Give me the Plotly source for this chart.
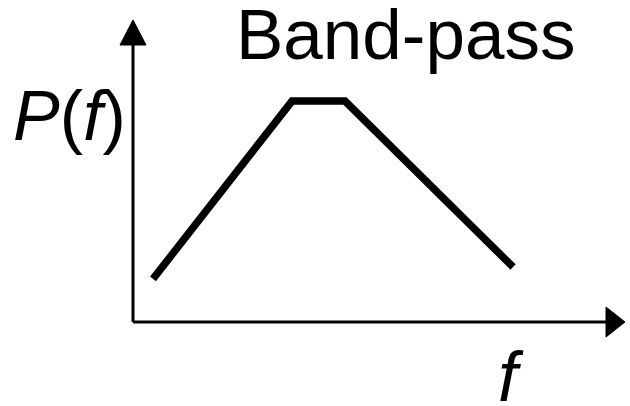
import plotly.graph_objects as go

# Schematic band-pass response (arbitrary units)
freq = [0.5, 3.975, 5.3, 9.5]
power = [0.98, 5.02, 5.02, 1.25]

title_text = "Band-pass"
y_label = "<i>P</i>(<i>f</i>)"
x_label = "<i>f</i>"

W, H = 630, 406
x_range = [-3.325, 12.425]
y_range = [-1.909, 7.318]

x_axis_end = 12.3      # arrow tip
y_axis_end = 6.864
x_head_len, x_head_half = 0.475, 0.341
y_head_len, y_head_half = 0.569, 0.325

fig = go.Figure()
fig.add_trace(go.Scatter(x=freq, y=power, mode="lines",
                         line=dict(color="black", width=7.5),
                         hoverinfo="skip", showlegend=False))

# axes lines
fig.add_shape(type="line", x0=0, y0=0, x1=x_axis_end - x_head_len, y1=0,
              line=dict(color="black", width=3))
fig.add_shape(type="line", x0=0, y0=0, x1=0, y1=y_axis_end - y_head_len,
              line=dict(color="black", width=3))
# arrow heads
xb = x_axis_end - x_head_len
fig.add_shape(type="path",
              path=f"M {xb},{-x_head_half} L {x_axis_end},0 L {xb},{x_head_half} Z",
              fillcolor="black", line=dict(color="black", width=1))
yb = y_axis_end - y_head_len
fig.add_shape(type="path",
              path=f"M {-y_head_half},{yb} L 0,{y_axis_end} L {y_head_half},{yb} Z",
              fillcolor="black", line=dict(color="black", width=1))

font = "Liberation Sans, Arial, sans-serif"
fig.add_annotation(text=title_text, x=405 / W, y=1 - 34 / H, xref="paper", yref="paper",
                   showarrow=False, xanchor="center", yanchor="middle",
                   font=dict(family=font, size=71, color="black"))
fig.add_annotation(text=y_label, x=69 / W, y=1 - 116 / H, xref="paper", yref="paper",
                   showarrow=False, xanchor="center", yanchor="middle",
                   font=dict(family=font, size=70, color="black"))
fig.add_annotation(text=x_label, x=511 / W, y=1 - 377 / H, xref="paper", yref="paper",
                   showarrow=False, xanchor="center", yanchor="middle",
                   font=dict(family=font, size=70, color="black"))

fig.update_xaxes(range=x_range, visible=False, fixedrange=True)
fig.update_yaxes(range=y_range, visible=False, fixedrange=True)
fig.update_layout(width=W, height=H, margin=dict(l=0, r=0, t=0, b=0),
                  paper_bgcolor="white", plot_bgcolor="white")

fig.write_html("out.html", config={"displayModeBar": False},
               post_script="document.body.style.margin='0';document.body.style.overflow='hidden';")
